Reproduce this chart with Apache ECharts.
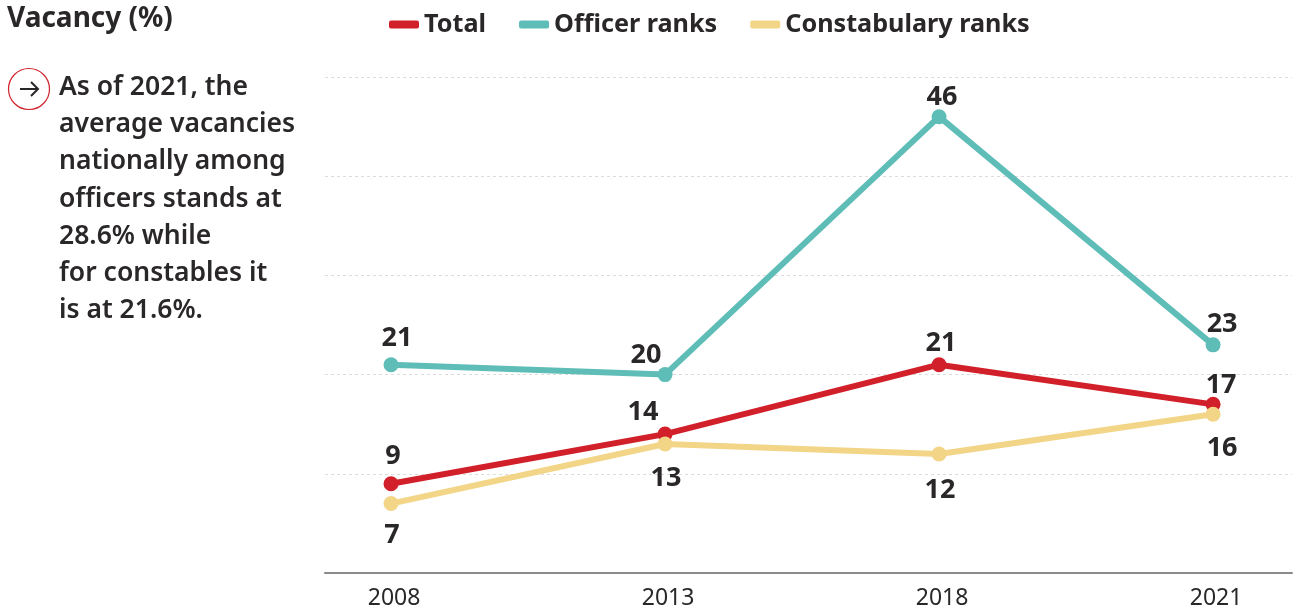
<!DOCTYPE html>
<html>
<head>
<meta charset="utf-8">
<style>html,body{margin:0;padding:0;background:#fff}#chart{width:1293px;height:615px}</style>
<script src="https://cdn.jsdelivr.net/npm/echarts@6/dist/echarts.min.js"></script>
</head>
<body>
<div id="chart"></div>
<script>
// Police vacancy rates by rank group, 2008-2021
const years = ['2008', '2013', '2018', '2021'];
const total = [9, 14, 21, 17];
const officerRanks = [21, 20, 46, 23];
const constabularyRanks = [7, 13, 12, 16];
const noteLines = [
  'As of 2021, the', 'average vacancies', 'nationally among', 'officers stands at',
  '28.6% while', 'for constables it', 'is at 21.6%.'
];

const TEXT_FONT = 'Noto Sans';
const INK = '#2a2728';

// Value labels sit above or below their point, nudged where lines crowd each other
function labelled(values, placement, offsets) {
  return values.map((v, i) => ({
    value: [i, v],
    label: { position: placement[i], offset: offsets[i] }
  }));
}

function lineSeries(name, color, values, placement, offsets, z) {
  return {
    name, type: 'line', z,
    data: labelled(values, placement, offsets),
    symbol: 'circle', symbolSize: 15,
    lineStyle: { color, width: 6 },
    itemStyle: { color },
    label: {
      show: true, distance: 9,
      formatter: p => p.value[1],
      fontFamily: TEXT_FONT, fontWeight: 700, fontSize: 27, color: INK
    }
  };
}

const noteText = noteLines.map((line, i) => ({
  type: 'text', left: 59, top: 74 + i * 37.2,
  style: { text: line, fontFamily: TEXT_FONT, fontWeight: 600, fontSize: 26.5, fill: INK }
}));

const chart = echarts.init(document.getElementById('chart'), null, { renderer: 'canvas' });
chart.setOption({
  animation: false,
  grid: { left: 325, right: 1, top: 77, bottom: 42 },
  legend: {
    left: 384, top: 7, itemWidth: 30, itemHeight: 8, itemGap: 33, icon: 'roundRect',
    textStyle: { fontFamily: TEXT_FONT, fontWeight: 700, fontSize: 25.2, color: INK },
    data: ['Total', 'Officer ranks', 'Constabulary ranks']
  },
  xAxis: {
    type: 'value', min: -0.241, max: 3.288,
    splitLine: { show: false },
    axisLine: { show: true, onZero: false, lineStyle: { color: '#8a8a8a', width: 2 } },
    axisTick: { show: false },
    axisLabel: {
      customValues: [0, 1, 2, 3],
      formatter: v => years[v],
      margin: 14, padding: [0, 0, 0, 6],
      fontFamily: TEXT_FONT, fontSize: 23, color: INK
    }
  },
  yAxis: {
    type: 'value', min: 0, max: 50, interval: 10,
    axisLine: { show: false }, axisTick: { show: false }, axisLabel: { show: false },
    splitLine: { lineStyle: { color: '#dcdcdc', type: [3, 3], width: 1 } }
  },
  series: [
    lineSeries('Total', '#d2202a', total,
      ['top', 'top', 'top', 'top'],
      [[2, 3], [-22, 8], [2, 9], [8, 11]], 3),
    lineSeries('Officer ranks', '#5fbdb8', officerRanks,
      ['top', 'top', 'top', 'top'],
      [[6, 4], [-19, 11], [3, 11], [9, 9]], 2),
    lineSeries('Constabulary ranks', '#f2d587', constabularyRanks,
      ['bottom', 'bottom', 'bottom', 'bottom'],
      [[1, 2], [1, 4], [1, 6], [9, 4]], 4)
  ],
  graphic: [
    { type: 'text', left: 7, top: 5,
      style: { text: 'Vacancy (%)', fontFamily: TEXT_FONT, fontWeight: 700, fontSize: 28, fill: INK } },
    { type: 'circle', shape: { cx: 29, cy: 89, r: 20.5 },
      style: { fill: 'none', stroke: '#d2202a', lineWidth: 1.2 } },
    { type: 'polyline', shape: { points: [[20, 89], [38, 89]] },
      style: { fill: 'none', stroke: INK, lineWidth: 2 } },
    { type: 'polyline', shape: { points: [[31, 82], [38, 89], [31, 96]] },
      style: { fill: 'none', stroke: INK, lineWidth: 2 } },
    ...noteText
  ]
});
</script>
</body>
</html>
